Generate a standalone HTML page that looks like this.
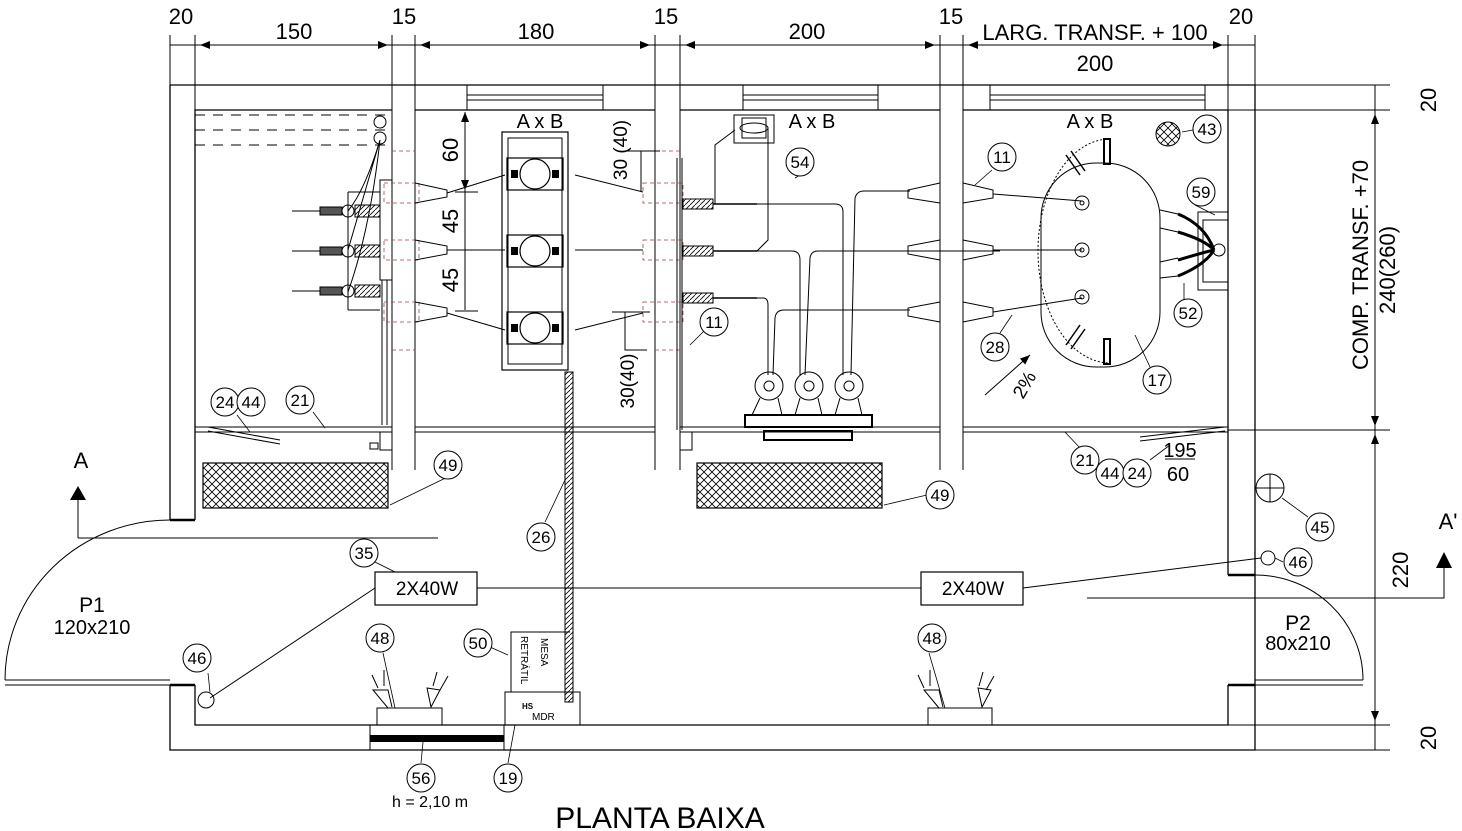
<!DOCTYPE html>
<html><head><meta charset="utf-8"><style>
html,body{margin:0;padding:0;background:#fff}
svg{display:block}
text{font-family:"Liberation Sans",sans-serif;fill:#000}
</style></head><body>
<svg width="1462" height="831" viewBox="0 0 1462 831" xmlns="http://www.w3.org/2000/svg">
<defs>
<pattern id="xh" width="8" height="8" patternUnits="userSpaceOnUse">
<path d="M0 0L8 8M8 0L0 8" stroke="#000" stroke-width="0.8"/>
</pattern>
<pattern id="dh" width="5" height="5" patternUnits="userSpaceOnUse">
<path d="M0 5L5 0" stroke="#000" stroke-width="0.8"/>
</pattern>
<marker id="ar" viewBox="0 0 10 10" refX="10" refY="5" markerWidth="10" markerHeight="14" orient="auto-start-reverse" markerUnits="userSpaceOnUse">
<path d="M0 1L10 5L0 9Z" fill="#000"/>
</marker>
</defs>
<g stroke="#000" fill="none" stroke-width="1.3">
<g stroke-width="1">
<path d="M170 35V85M195 35V110M392 35V470M415 35V470M655 35V470M680 35V470M940 35V470M963 35V470M1228 35V110M1255 35V85"/>
<path d="M170 45H1255"/>
<path d="M200 45H388" marker-start="url(#ar)" marker-end="url(#ar)"/>
<path d="M420 45H650" marker-start="url(#ar)" marker-end="url(#ar)"/>
<path d="M685 45H935" marker-start="url(#ar)" marker-end="url(#ar)"/>
<path d="M968 45H1223" marker-start="url(#ar)" marker-end="url(#ar)"/>
<path d="M1375 85V750M1255 85H1390M1228 110H1390M1228 430H1390M1228 725H1390M1255 750H1390"/>
<path d="M1375 114V426" marker-start="url(#ar)" marker-end="url(#ar)"/>
<path d="M1375 434V721" marker-start="url(#ar)" marker-end="url(#ar)"/>
</g>
<path d="M170 85H1255V750H170V685"/>
<path d="M170 520V85"/>
<path d="M195 520V110H392M415 110H655M680 110H940M963 110H1228V575"/>
<path d="M195 685V725H1228V685"/>
<path d="M170 520H195M170 685H195M1228 575H1255M1228 685H1255" stroke-width="2.5"/>
<path d="M467 85V110M603 85V110M467 95H603M467 100H603M743 85V110M878 85V110M743 95H878M743 100H878M990 85V110M1205 85V110M990 95H1205M990 100H1205" stroke-width="1"/>
<path d="M195 427H392M415 427H655M680 427H940M963 427H1228M195 432H392M415 432H655M680 432H940M963 432H1228" stroke-width="1"/>
<path d="M5 680H170M5 685H170" stroke-width="1"/>
<path d="M5 680A165 160 0 0 1 170 520" stroke-width="1"/>
<path d="M1255 680H1363M1255 685H1363" stroke-width="1"/>
<path d="M1363 680A108 105 0 0 0 1255 575" stroke-width="1"/>
<path d="M78 538V500M78 538H438" stroke-width="1"/>
<path d="M1087 598H1444V568" stroke-width="1"/>
<rect x="203" y="463" width="185" height="45" fill="url(#xh)" stroke-width="1.2"/>
<rect x="697" y="463" width="185" height="45" fill="url(#xh)" stroke-width="1.2"/>
<rect x="565" y="372" width="8" height="330" fill="url(#dh)" stroke-width="1"/>
<path d="M195 115H390M195 130H390M195 145H390" stroke-dasharray="10 8" stroke-width="1"/>
<circle cx="380" cy="122" r="6" stroke-width="1"/>
<circle cx="380" cy="138" r="6" stroke-width="1"/>
<path d="M380 140Q365 190 348 211M380 140L348 250M380 140Q370 230 348 292" stroke-width="1"/>
<rect x="380" y="180" width="12" height="100" stroke-width="1"/>
<path d="M348 192H380M348 310H380M348 192V310" stroke-width="1"/>
<g stroke-width="1">
<path d="M292 211H320M292 251H320M292 291H320"/>
<rect x="320" y="207" width="22" height="8" fill="#555"/>
<rect x="320" y="247" width="22" height="8" fill="#555"/>
<rect x="320" y="287" width="22" height="8" fill="#555"/>
<circle cx="348" cy="211" r="6"/><circle cx="348" cy="251" r="6"/><circle cx="348" cy="291" r="6"/>
<rect x="355" y="205" width="25" height="12" fill="url(#dh)"/>
<rect x="355" y="245" width="25" height="12" fill="url(#dh)"/>
<rect x="355" y="285" width="25" height="12" fill="url(#dh)"/>
</g>
<path d="M382 280V425M387 280V425" stroke-width="1"/>
<rect x="380" y="432" width="12" height="18" stroke-width="1"/>
<rect x="370" y="443" width="8" height="6" stroke-width="1"/>
<g stroke="#944" stroke-width="0.8" stroke-dasharray="4 3">
<path d="M392 151H415M392 350H415"/>
<rect x="384" y="183" width="35" height="20"/><rect x="384" y="240" width="35" height="20"/><rect x="384" y="302" width="35" height="20"/>
<rect x="643" y="183" width="40" height="20"/><rect x="643" y="240" width="40" height="20"/><rect x="643" y="302" width="40" height="20"/>
<path d="M655 151H680M655 350H680"/>
</g>
<g stroke-width="1">
<path d="M415 183L447 190V197L415 203M415 240L447 246V254L415 260M415 302L447 308V316L415 322"/>
<path d="M447 193L505 175M447 250H505M447 313L505 330"/>
<path d="M575 175L643 192M575 250H643M575 330L643 313"/>
</g>
<path d="M465 112V190" stroke-width="1" marker-start="url(#ar)" marker-end="url(#ar)"/>
<path d="M465 190V310M455 192H478M455 311H478" stroke-width="1"/>
<rect x="502" y="132" width="66" height="238" stroke-width="1.2"/>
<rect x="508" y="138" width="54" height="226" stroke-width="1"/>
<g stroke-width="1.2">
<rect x="507" y="158" width="56" height="32"/><rect x="507" y="235" width="56" height="32"/><rect x="507" y="312" width="56" height="32"/>
<circle cx="535" cy="174" r="15"/><circle cx="535" cy="251" r="15"/><circle cx="535" cy="328" r="15"/>
</g>
<g fill="#000" stroke="none">
<rect x="511" y="170" width="7" height="8"/><rect x="552" y="170" width="7" height="8"/>
<rect x="511" y="247" width="7" height="8"/><rect x="552" y="247" width="7" height="8"/>
<rect x="511" y="324" width="7" height="8"/><rect x="552" y="324" width="7" height="8"/>
</g>
<path d="M625 151H660M641 151V192M612 312H650M625 312V350H647" stroke-width="1"/>
<path d="M677 158V430M682 158V430" stroke-width="1"/>
<rect x="680" y="432" width="12" height="18" stroke-width="1"/>
<g stroke-width="1">
<rect x="683" y="199" width="30" height="10" fill="url(#dh)"/>
<rect x="683" y="246" width="30" height="10" fill="url(#dh)"/>
<rect x="683" y="293" width="30" height="10" fill="url(#dh)"/>
<path d="M713 204H757M713 251H757M713 298H757" stroke-width="1.5"/>
<path d="M757 204H835Q843 204 843 212V375M757 251H792Q800 251 800 260V375M757 298H763Q768 298 768 305V375"/>
<path d="M805 375L810 258Q811 251 818 251H1000M851 375L855 198Q857 191 864 191H910M773 375L775 318Q776 310 784 310H910"/>
<path d="M715 204V145L735 130M757 251L768 240V128"/>
<rect x="734" y="115" width="40" height="28"/>
<rect x="742" y="118" width="24" height="20"/>
<ellipse cx="754" cy="128" rx="14" ry="5"/>
<circle cx="769" cy="386" r="14"/><circle cx="769" cy="386" r="5"/>
<circle cx="809" cy="386" r="14"/><circle cx="809" cy="386" r="5"/>
<circle cx="849" cy="386" r="14"/><circle cx="849" cy="386" r="5"/>
<path d="M760 398L752 415M778 398L782 415M800 398L795 415M818 398L822 415M840 398L835 415M858 398L862 415"/>
<rect x="745" y="415" width="127" height="12" stroke-width="2"/>
<rect x="764" y="431" width="88" height="9" stroke-width="2"/>
</g>
<g stroke-width="1">
<path d="M940 183L908 190V198L940 203M963 183L993 190V198L963 203"/>
<path d="M940 240L908 246V254L940 260M963 240L993 246V254L963 260"/>
<path d="M940 302L908 308V316L940 322M963 302L993 308V316L963 322"/>
<path d="M993 194L1082 201M993 250H1082M993 312L1082 298"/>
</g>
<g stroke-width="1">
<path d="M1110 139A72 112 0 0 0 1110 363" stroke-dasharray="2 2"/>
<rect x="1041" y="163" width="119" height="204" rx="55"/>
<circle cx="1082" cy="203" r="7"/><circle cx="1082" cy="203" r="2"/>
<circle cx="1082" cy="250" r="7"/><circle cx="1082" cy="250" r="2"/>
<circle cx="1082" cy="297" r="7"/><circle cx="1082" cy="297" r="2"/>
<rect x="1104" y="139" width="6" height="25" stroke-width="2"/><rect x="1104" y="339" width="6" height="25" stroke-width="2"/>
<path d="M1066 155L1080 175M1071 151L1085 171M1066 345L1080 325M1071 349L1085 329" stroke-width="1.5"/>
<path d="M1160 210L1178 214M1160 228L1178 232M1160 262L1178 258M1160 278L1178 276"/>
<rect x="1198" y="212" width="30" height="78"/>
<rect x="1203" y="220" width="25" height="62"/>
<circle cx="1219" cy="250" r="6"/>
</g>
<path d="M1178 214Q1205 225 1214 250M1178 232Q1205 240 1214 250M1178 260Q1205 252 1214 250M1178 276Q1205 265 1214 250" stroke-width="3"/>
<circle cx="1168" cy="134" r="12" fill="url(#xh)" stroke-width="1"/>
<path d="M985 395L1030 355" stroke-width="1" marker-end="url(#ar)"/>
<path d="M1140 437L1225 427M1140 441L1225 431" stroke-width="1"/>
<path d="M1165 459H1195" stroke-width="1"/>
<path d="M208 427L280 440M208 431L280 444" stroke-width="1"/>
<circle cx="1270" cy="488" r="14" stroke-width="1"/>
<path d="M1256 488H1284M1270 474V502" stroke-width="1"/>
<circle cx="1268" cy="558" r="7" stroke-width="1"/>
<rect x="375" y="572" width="102" height="33" stroke-width="1.2"/>
<rect x="921" y="572" width="102" height="33" stroke-width="1.2"/>
<path d="M477 588H921M1023 588L1261 558M375 588L210 698" stroke-width="1"/>
<circle cx="206" cy="700" r="8" stroke-width="1"/>
<g stroke-width="1">
<rect x="377" y="708" width="65" height="17"/>
<path d="M392 707L388 690L373 690L388 708M431 707L427 688L440 690Z"/>
<path d="M372 675L378 688M384 670L384 686M437 672L433 686M448 676L440 690"/>
<rect x="928" y="708" width="64" height="17"/>
<path d="M943 707L939 690L924 690L939 708M982 707L978 688L991 690Z"/>
<path d="M918 675L924 688M930 670L930 686M983 672L979 686M994 676L986 690"/>
</g>
<path d="M511 692V632H570" stroke-width="1"/>
<rect x="505" y="692" width="75" height="33" stroke-width="1"/>
<rect x="370" y="735" width="134" height="7" fill="#000" stroke="none"/>
<path d="M370 725V750M504 725V750" stroke-width="1"/>
<g stroke-width="0.8">
<path d="M237 415L250 432M313 412L325 428M462 470L390 505M927 495L884 505M545 522L565 480M375 562L395 572M208 673L210 692M383 653L395 708M490 647L508 655M421 763L423 742M508 763L515 725M929 653L945 708M992 170L975 185M805 172L795 178M705 330L690 345M1000 333L1012 315M1150 367L1135 335M1184 300L1184 283M1195 205L1215 215M1193 130L1182 132M1080 448L1065 432M1150 460L1170 445M1308 517L1282 498M1283 562L1275 558"/>
</g>
</g>
<g font-size="17" text-anchor="middle">
<g fill="#fff" stroke="#000" stroke-width="1">
<circle cx="225" cy="402" r="14"/><circle cx="251" cy="402" r="14"/><circle cx="300" cy="400" r="14"/>
<circle cx="448" cy="465" r="14"/><circle cx="940" cy="495" r="14"/><circle cx="541" cy="537" r="14"/>
<circle cx="364" cy="553" r="14"/><circle cx="197" cy="658" r="14"/><circle cx="380" cy="638" r="14"/>
<circle cx="478" cy="643" r="14"/><circle cx="421" cy="778" r="14"/><circle cx="508" cy="778" r="14"/>
<circle cx="932" cy="638" r="14"/><circle cx="1002" cy="157" r="14"/><circle cx="800" cy="162" r="14"/>
<circle cx="714" cy="322" r="14"/><circle cx="995" cy="347" r="14"/><circle cx="1157" cy="380" r="14"/>
<circle cx="1188" cy="313" r="14"/><circle cx="1201" cy="192" r="14"/><circle cx="1207" cy="129" r="14"/>
<circle cx="1085" cy="460" r="14"/><circle cx="1110" cy="473" r="14"/><circle cx="1137" cy="473" r="14"/>
<circle cx="1320" cy="527" r="14"/><circle cx="1298" cy="562" r="14"/>
</g>
<text x="225" y="408">24</text><text x="251" y="408">44</text><text x="300" y="406">21</text>
<text x="448" y="471">49</text><text x="940" y="501">49</text><text x="541" y="543">26</text>
<text x="364" y="559">35</text><text x="197" y="664">46</text><text x="380" y="644">48</text>
<text x="478" y="649">50</text><text x="421" y="784">56</text><text x="508" y="784">19</text>
<text x="932" y="644">48</text><text x="1002" y="163">11</text><text x="800" y="168">54</text>
<text x="714" y="328">11</text><text x="995" y="353">28</text><text x="1157" y="386">17</text>
<text x="1188" y="319">52</text><text x="1201" y="198">59</text><text x="1207" y="135">43</text>
<text x="1085" y="466">21</text><text x="1110" y="479">44</text><text x="1137" y="479">24</text>
<text x="1320" y="533">45</text><text x="1298" y="568">46</text>
</g>
<g font-size="22" text-anchor="middle">
<text x="181" y="24">20</text><text x="294" y="39">150</text><text x="404" y="24">15</text>
<text x="536" y="39">180</text><text x="666" y="24">15</text><text x="807" y="39">200</text>
<text x="951" y="24">15</text><text x="1095" y="40">LARG. TRANSF. + 100</text><text x="1241" y="24">20</text>
<text x="1095" y="71">200</text>
<text x="81" y="468">A</text><text x="1448" y="529">A'</text>
</g>
<path d="M70 500H86L78 486Z M1436 568H1452L1444 552Z" fill="#000"/>
<g font-size="22" text-anchor="middle">
<text transform="translate(1436,100) rotate(-90)">20</text>
<text transform="translate(1368,265) rotate(-90)">COMP. TRANSF. +70</text>
<text transform="translate(1395,270) rotate(-90)">240(260)</text>
<text transform="translate(1408,570) rotate(-90)">220</text>
<text transform="translate(1436,738) rotate(-90)">20</text>
<text transform="translate(458,150) rotate(-90)">60</text>
<text transform="translate(458,221) rotate(-90)">45</text>
<text transform="translate(458,280) rotate(-90)">45</text>
<text transform="translate(627,150) rotate(-90)" font-size="19">30 (40)</text>
<text transform="translate(634,381) rotate(-90)" font-size="19">30(40)</text>
<text transform="translate(1030,388) rotate(-60)" font-size="19">2%</text>
</g>
<g font-size="19" text-anchor="middle">
<text x="540" y="128" font-size="20">A x B</text><text x="812" y="128" font-size="20">A x B</text><text x="1090" y="128" font-size="20">A x B</text>
<text x="427" y="595">2X40W</text>
<text x="973" y="595">2X40W</text>
<text x="1180" y="457" font-size="20">195</text><text x="1178" y="481" font-size="20">60</text>
<text x="92" y="612" font-size="21">P1</text><text x="92" y="634" font-size="20">120x210</text>
<text x="1298" y="630" font-size="21">P2</text><text x="1298" y="650" font-size="20">80x210</text>
<text x="430" y="807" font-size="16">h = 2,10 m</text>
<text x="660" y="828" font-size="30">PLANTA BAIXA</text>
</g>
<g font-size="10">
<text transform="translate(541,638) rotate(90)">MESA</text>
<text transform="translate(521,636) rotate(90)">RETRÁTIL</text>
<text x="522" y="709" font-weight="bold" font-size="8">HS</text>
<text x="532" y="720">MDR</text>
</g>
</svg>
</body></html>
